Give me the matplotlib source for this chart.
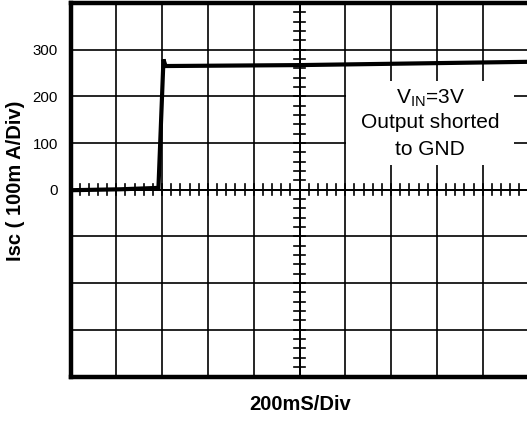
import numpy as np
import matplotlib
matplotlib.use("Agg")
import matplotlib.pyplot as plt
from matplotlib.patches import Rectangle

plt.rcParams['font.family'] = ['Liberation Sans', 'DejaVu Sans']
plt.rcParams['mathtext.fontset'] = 'custom'
plt.rcParams['mathtext.rm'] = 'Liberation Sans'

# short-circuit current trace (time in ms, current in mA)
t_ms = [0, 220, 384, 406, 415, 1000, 1996]
isc = [-1, 1, 4, 279, 265, 267, 274]

y_labels = ['0', '100', '200', '300']
y_label_vals = [0, 100, 200, 300]

fig = plt.figure(figsize=(5.27, 4.21), dpi=100)
ax = fig.add_axes([70.5 / 527, 44.5 / 421, 458 / 527, 373.5 / 421])

ax.set_xlim(0, 2000)
ax.set_ylim(-400, 400)

# scope graticule
ax.set_xticks(np.arange(0, 2001, 200))
ax.set_yticks(np.arange(-400, 401, 100))
ax.set_xticklabels([])
ax.set_yticklabels([y_labels[y_label_vals.index(v)] if v in y_label_vals else ''
                    for v in range(-400, 401, 100)], fontsize=10.8)
ax.tick_params(length=0, pad=9)
ax.grid(True, color='black', lw=1.2)

for side in ['left', 'top', 'bottom']:
    ax.spines[side].set_linewidth(3.2)
ax.spines['right'].set_visible(False)

# centre cross with fine divisions
ax.axvline(1000, color='black', lw=1.4, zorder=2)
ax.axhline(0, color='black', lw=1.4, zorder=2)
for x in np.arange(40, 2000, 40):
    ax.plot([x, x], [-12, 12], color='black', lw=1.2, zorder=2)
for y in np.arange(-380, 400, 20):
    ax.plot([974, 1026], [y, y], color='black', lw=1.2, zorder=2)

# note box
ax.add_patch(Rectangle((1203, 52), 732, 182, facecolor='white', edgecolor='none', zorder=3))
ax.text(1570, 196, r'V$_{\rm IN}$=3V', ha='center', va='center', fontsize=15, zorder=4)
ax.text(1570, 143, 'Output shorted', ha='center', va='center', fontsize=15, zorder=4)
ax.text(1570, 87, 'to GND', ha='center', va='center', fontsize=15, zorder=4)

ax.plot(t_ms, isc, color='black', lw=3, zorder=5, solid_joinstyle='miter')

fig.text(16 / 527, 1 - 181 / 421, 'Isc ( 100m A/Div)', rotation=90, ha='center',
         va='center', fontsize=14.5, fontweight='bold')
fig.text(300 / 527, 1 - 405 / 421, '200mS/Div', ha='center', va='center',
         fontsize=14.5, fontweight='bold')

fig.savefig('out.png', dpi=100)
